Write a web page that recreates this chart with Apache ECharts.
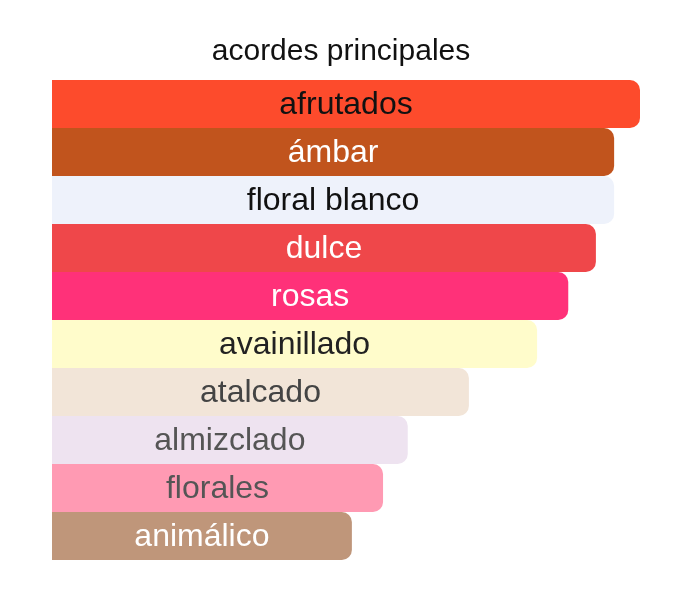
<!DOCTYPE html>
<html>
<head>
<meta charset="utf-8">
<script src="https://cdn.jsdelivr.net/npm/echarts@6/dist/echarts.min.js"></script>
<style>html,body{margin:0;padding:0;background:#fff}#c{width:682px;height:616px}</style>
</head>
<body>
<div id="c"></div>
<script>
const categories = ['afrutados','ámbar','floral blanco','dulce','rosas','avainillado','atalcado','almizclado','florales','animálico'];
const values = [100, 95.6, 95.6, 92.5, 87.8, 82.5, 70.9, 60.5, 56.3, 51.0];
const barColors = ['#FD4B2C','#C1541D','#EEF2FB','#EF474A','#FF3179','#FFFCCB','#F2E5D8','#EEE3F0','#FF9AB3','#BF967A'];
const labelColors = ['#111111','#ffffff','#111111','#ffffff','#ffffff','#222222','#444444','#555555','#555555','#ffffff'];

const chart = echarts.init(document.getElementById('c'));
chart.setOption({
  animation: false,
  title: {
    text: 'acordes principales',
    left: 'center',
    top: 32,
    textStyle: { fontFamily: 'Liberation Sans', fontSize: 30, fontWeight: 'normal', color: '#111' }
  },
  grid: { left: 52, right: 42, top: 80, bottom: 56 },
  xAxis: { type: 'value', min: 0, max: 100, show: false },
  yAxis: { type: 'category', data: categories, inverse: true, show: false },
  series: [{
    type: 'bar',
    barCategoryGap: 0,
    data: values.map((v, i) => ({
      value: v,
      itemStyle: { color: barColors[i], borderRadius: [0, 10, 10, 0] },
      label: { color: labelColors[i] }
    })),
    label: {
      show: true,
      position: 'inside',
      offset: [0, 1],
      formatter: p => categories[p.dataIndex],
      fontFamily: 'Liberation Sans',
      fontSize: 32
    }
  }]
});
</script>
</body>
</html>
